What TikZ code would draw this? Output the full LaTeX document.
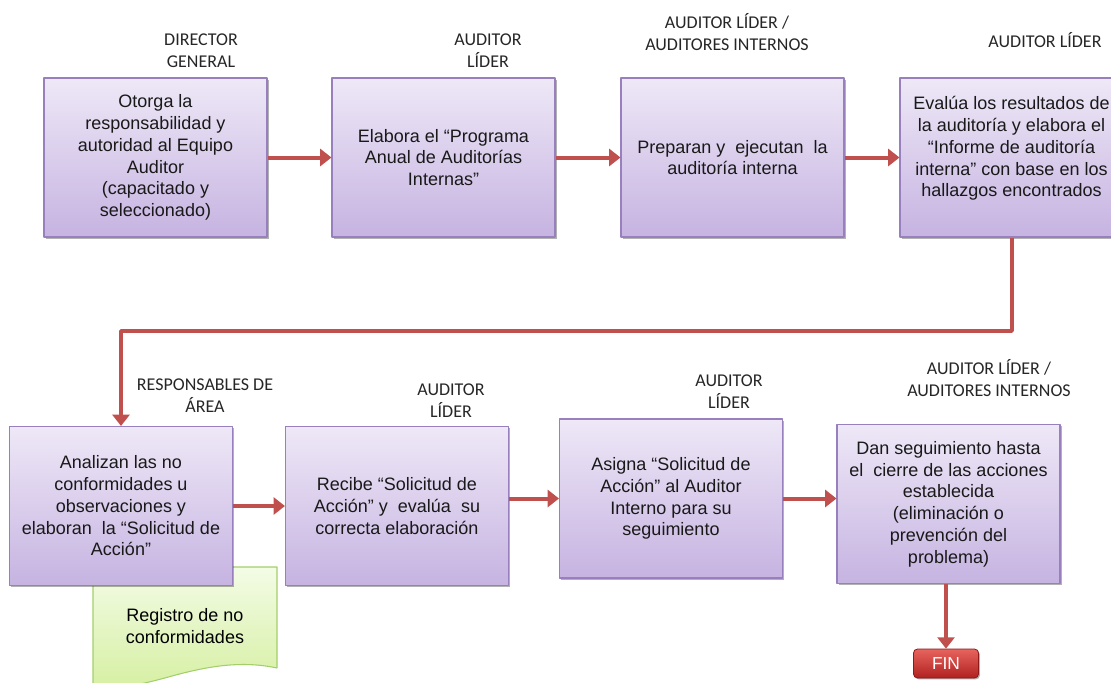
\documentclass[tikz,border=0pt]{standalone}
\usepackage{fontspec}
\setmainfont{Liberation Sans}
\newfontfamily\rolefont{Carlito}
\usetikzlibrary{arrows.meta,shadows}
\definecolor{boxtop}{HTML}{EEE8F7}
\definecolor{boxbot}{HTML}{C6B3E1}
\definecolor{boxline}{HTML}{9880BE}
\definecolor{arrowred}{HTML}{C0504D}
\definecolor{notetop}{HTML}{F3FCE6}
\definecolor{notebot}{HTML}{D6EFA2}
\definecolor{noteline}{HTML}{A3CF6A}
\definecolor{fintop}{HTML}{E8645E}
\definecolor{finbot}{HTML}{B0211F}
\definecolor{rolegray}{HTML}{262626}
\begin{document}
\begin{tikzpicture}[x=0.75bp,y=-0.75bp,line join=bevel,
  stepbox/.style={draw=boxline,line width=0.8bp,top color=boxtop,bottom color=boxbot,
    minimum width=167.25bp,minimum height=119.25bp,inner sep=2bp,align=center,
    text=black!90,font=\fontsize{13.5bp}{16.3bp}\selectfont,
    drop shadow={shadow xshift=1.3bp,shadow yshift=-1.3bp,opacity=0.3,fill=black}},
  role/.style={align=center,text=rolegray,font=\rolefont\fontsize{13.5bp}{16.5bp}\selectfont},
  flow/.style={draw=arrowred,line width=3bp,-{Triangle[length=8.5bp,width=12.75bp]}},
  notebox/.style={draw=noteline,line width=0.8bp,top color=notetop,bottom color=notebot},
  finbox/.style={draw=finbot!80!black,line width=0.6bp,top color=fintop,bottom color=finbot,
    rounded corners=3bp,minimum width=48.75bp,minimum height=21.75bp,inner sep=0pt,
    text=white,font=\fontsize{13bp}{15bp}\selectfont,
    drop shadow={shadow xshift=1bp,shadow yshift=-1bp,opacity=0.3,fill=black}},
  ]
\useasboundingbox (0,0) rectangle (1111,682);
%%
\shade [notebox] (93,567) -- (277,567) -- (277,668) .. controls (240,660) and (205,667) .. (172,676) .. controls (140,685) and (115,690) .. (93,688) -- cycle;
\node (note) at (185,626) [align=center,font=\fontsize{13.5bp}{16.3bp}\selectfont] {Registro de no\\conformidades};
%
\node (role_1) at (201,51) [role] {DIRECTOR\\GENERAL};
  \node (role_2) at (488,51) [role] {AUDITOR\\LÍDER};
  \node (role_3) at (727,32) [role] {AUDITOR LÍDER /\\AUDITORES INTERNOS};
  \node (role_4) at (1045,40) [role] {AUDITOR LÍDER};
  \node (role_5) at (205,396) [role] {RESPONSABLES DE\\ÁREA};
  \node (role_6) at (451,401) [role] {AUDITOR\\LÍDER};
  \node (role_7) at (729,392) [role] {AUDITOR\\LÍDER};
  \node (role_8) at (989,378) [role] {AUDITOR LÍDER /\\AUDITORES INTERNOS};
%
\node (node_1) at (155.5,157.5) [stepbox] {Otorga la\\responsabilidad y\\autoridad al Equipo\\Auditor\\(capacitado y\\seleccionado)};
  \node (node_2) at (443.5,157.5) [stepbox] {Elabora el “Programa\\Anual de Auditorías\\Internas”};
  \node (node_3) at (732.5,157.5) [stepbox] {Preparan y~ ejecutan~ la\\auditoría interna};
  \node (node_4) at (1011.5,157.5) [stepbox] {Evalúa los resultados de\\la auditoría y elabora el\\“Informe de auditoría\\interna” con base en los\\hallazgos encontrados\\\mbox{}};
  \node (node_5) at (121,506) [stepbox] {Analizan las no\\conformidades u\\observaciones y\\elaboran~ la “Solicitud de\\Acción”};
  \node (node_6) at (397,506) [stepbox] {Recibe “Solicitud de\\Acción” y~ evalúa~ su\\correcta elaboración};
  \node (node_7) at (671,498.5) [stepbox] {Asigna “Solicitud de\\Acción” al Auditor\\Interno para su\\seguimiento};
  \node (node_8) at (948.5,504) [stepbox] {Dan seguimiento hasta\\el~ cierre de las acciones\\establecida\\(eliminación o\\prevención del\\problema)};
  \node (fin) at (946,663.5) [finbox] {FIN};
%
\draw [flow] (node_1) -- (node_2);
  \draw [flow] (node_2) -- (node_3);
  \draw [flow] (node_3) -- (node_4);
  \draw [flow] (node_4.south) -- ++(0,93) -| (node_5.north);
  \draw [flow] (node_5.east) -- (node_6.west);
  \draw [flow] (node_6.east |- node_7.west) -- (node_7.west);
  \draw [flow] (node_7.east) -- (node_7.east -| node_8.west);
  \draw [flow] (node_8.south -| fin.north) -- (fin.north);
%
\end{tikzpicture}
\end{document}
